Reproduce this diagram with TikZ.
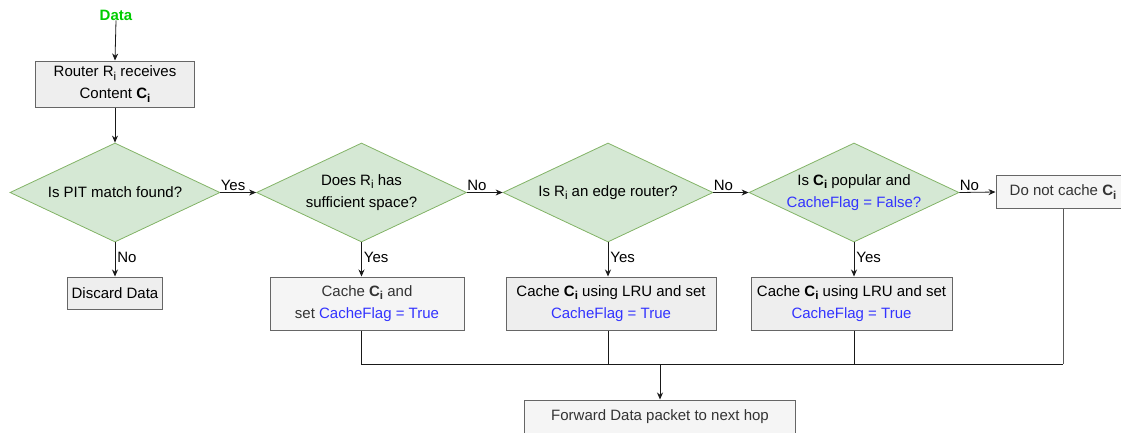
\documentclass[tikz,border=0pt]{standalone}
\usepackage{fontspec}
\setmainfont{Liberation Sans}
\usetikzlibrary{shapes.geometric,arrows.meta}
\definecolor{dfill}{HTML}{D5E8D4}
\definecolor{ddraw}{HTML}{82B366}
\definecolor{gfill}{HTML}{EEEEEE}
\definecolor{lfill}{HTML}{F5F5F5}
\definecolor{bdraw}{HTML}{666666}
\definecolor{flag}{HTML}{3333FF}
\definecolor{dgreen}{HTML}{00CC00}
\definecolor{dtext}{HTML}{333333}
% lowered index letter, a little larger than the default subscript size
\newcommand{\idx}[1]{\raisebox{-3.6pt}{\fontsize{11.5}{11.5}\selectfont #1}}
\newcommand{\Ci}{\textbf{C\idx{i}}}
\newcommand{\Ri}{R\idx{i}}
\newcommand{\flagtxt}[1]{{\color{flag}#1}}
\begin{document}
\begin{tikzpicture}[x=1pt,y=-1pt,
  font=\fontsize{15}{22}\selectfont,
  decision/.style={diamond, draw=ddraw, fill=dfill, line width=0.8pt,
    inner sep=0pt, minimum width=210pt, minimum height=99pt,
    label={[align=center, inner sep=0pt]center:#1}},
  graybox/.style={rectangle, draw=bdraw, fill=gfill, line width=1pt,
    inner sep=0pt, align=center},
  lightbox/.style={graybox, fill=lfill, text=dtext},
  conn/.style={line width=0.8pt, draw=black!90},
  flow/.style={conn, -{Stealth[length=7pt,width=6pt]}},
  lbl/.style={inner sep=0pt, font=\fontsize{15}{18}\selectfont},
  hlbl/.style={lbl, anchor=south west, pos=0, yshift=1.5pt},
  vlbl/.style={lbl, anchor=west, pos=0.45, xshift=2pt}]

\useasboundingbox (0,0) rectangle (1121,432);

% start and first step
\node[text=dgreen, inner sep=0pt] (data) at (116,15) {\textbf{Data}};
\node[graybox, minimum width=159pt, minimum height=46pt] (recv) at (115,84)
  {Router \Ri{} receives\\Content \Ci};

% decisions
\node[decision={Is PIT match found?}] (pit) at (115,192.5) {};
\node[decision={Does \Ri{} has\\sufficient space?}] (space) at (361.5,192.5) {};
\node[decision={Is \Ri{} an edge router?}] (edge) at (608,192.5) {};
\node[decision={Is \Ci{} popular and\\\flagtxt{CacheFlag = False?}}] (pop) at (854,192.5) {};

% outcomes
\node[graybox, minimum width=95pt, minimum height=32pt] (discard) at (115,293) {Discard Data};
\node[lightbox, minimum width=194pt, minimum height=53pt] (cache) at (367,303.5)
  {Cache \Ci{} and\\set \flagtxt{CacheFlag = True}};
\node[graybox, minimum width=210pt, minimum height=53pt] (lru1) at (611,303.5)
  {Cache \Ci{} using LRU and set\\\flagtxt{CacheFlag = True}};
\node[graybox, minimum width=201pt, minimum height=53pt] (lru2) at (851.5,303.5)
  {Cache \Ci{} using LRU and set\\\flagtxt{CacheFlag = True}};
\node[lightbox, minimum width=134pt, minimum height=33pt] (nocache) at (1063,192)
  {Do not cache \Ci};
\node[lightbox, minimum width=271pt, minimum height=33pt] (fwd) at (660,416.5)
  {Forward Data packet to next hop};

% merge line
\coordinate (bus) at (0,364);

% connectors
\draw[flow] (data.south) -- (recv.north);
\draw[flow] (recv.south) -- (pit.north);
\draw[flow] (pit.east) -- node[hlbl] {Yes} (space.west);
\draw[flow] (space.east) -- node[hlbl] {No} (edge.west);
\draw[flow] (edge.east) -- node[hlbl] {No} (pop.west);
\draw[flow] (pop.east) -- node[hlbl] {No} (nocache.west);
\draw[flow] (pit.south) -- node[vlbl] {No} (discard.north);
\draw[flow] (space.south) -- node[vlbl] {Yes} (space.south |- cache.north);
\draw[flow] (edge.south) -- node[vlbl] {Yes} (edge.south |- lru1.north);
\draw[flow] (pop.south) -- node[vlbl] {Yes} (pop.south |- lru2.north);

\draw[conn] (space.south |- cache.south) -- (space.south |- bus) -- (nocache.south |- bus);
\draw[conn, draw=black!65, line width=1pt] (nocache.south) -- (nocache.south |- bus);
\draw[conn] (edge.south |- lru1.south) -- (edge.south |- bus);
\draw[conn] (pop.south |- lru2.south) -- (pop.south |- bus);
\draw[flow] (fwd.north |- bus) -- (fwd.north);
\end{tikzpicture}
\end{document}
